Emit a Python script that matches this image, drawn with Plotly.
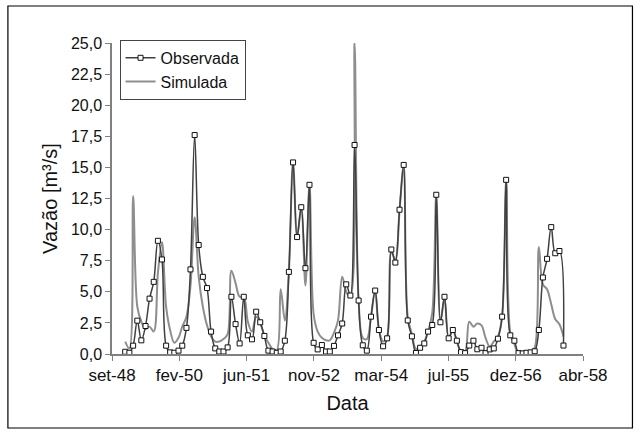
import pandas as pd
import plotly.graph_objects as go

# Monthly series Jan-1949 .. Dec-1957
months = pd.date_range("1949-01-01", periods=108, freq="MS")

observada = [0.18, 0.1, 0.67, 2.68, 1.1, 2.25, 4.45, 5.8, 9.1, 7.6, 0.67, 0.13,
             0.1, 0.27, 0.67, 2.1, 6.8, 17.6, 8.76, 6.2, 5.3, 1.8, 0.45, 0.2,
             0.2, 0.53, 4.6, 2.4, 0.85, 4.6, 1.5, 1.18, 3.4, 2.55, 1.45, 0.27,
             0.2, 0.1, 0.2, 1.07, 6.6, 15.4, 9.4, 11.8, 6.9, 13.6, 0.9, 0.37,
             0.72, 0.2, 0.2, 0.65, 1.5, 2.45, 5.6, 4.7, 16.8, 4.3, 0.7, 0.27,
             3.0, 5.1, 1.93, 0.62, 1.26, 8.4, 7.35, 11.6, 15.2, 2.7, 1.42, 0.08,
             0.5, 0.85, 1.8, 2.33, 12.8, 2.55, 4.6, 1.26, 1.93, 1.07, 0.15, 0.07,
             0.68, 1.07, 0.38, 0.5, 0.07, 0.37, 0.45, 1.23, 3.0, 14.0, 1.5, 1.07,
             0.07, 0.05, 0.1, 0.13, 0.22, 1.93, 6.15, 7.65, 10.2, 8.1, 8.28, 0.68]

simulada = [1.0, 0.45, 12.7, 3.8, 2.6, 2.0, 2.2, 1.8, 6.5, 9.0, 3.8, 1.9,
            0.9, 1.3, 2.2, 3.0, 5.5, 11.0, 6.2, 3.8, 2.3, 1.4, 1.0, 1.0,
            1.2, 1.6, 6.7, 5.7, 4.6, 4.6, 2.6, 1.8, 3.0, 2.5, 1.5, 0.9,
            0.4, 0.3, 5.2, 2.7, 6.6, 15.5, 9.4, 11.8, 5.5, 13.7, 3.2, 1.8,
            1.3, 1.1, 1.1, 1.7, 2.7, 6.2, 5.0, 4.6, 25.0, 4.3, 1.3, 1.2,
            3.0, 5.1, 2.0, 1.0, 1.4, 8.2, 7.6, 11.5, 15.2, 3.0, 1.6, 0.4,
            0.6, 1.0, 1.8, 3.3, 12.9, 2.6, 4.5, 1.3, 1.9, 1.0, 0.2, 0.2,
            2.6, 2.2, 2.45, 2.3, 1.3, 0.6, 1.0, 1.4, 3.0, 14.0, 1.7, 0.8,
            0.0, 0.0, 0.1, 0.2, 0.5, 8.6, 5.6, 5.2, 4.0, 2.8, 2.4, 1.4]

tick_dates = ["1948-09-25", "1950-02-07", "1951-06-22", "1952-11-03",
              "1954-03-18", "1955-07-31", "1956-12-12", "1958-04-25"]
tick_labels = ["set-48", "fev-50", "jun-51", "nov-52", "mar-54", "jul-55", "dez-56", "abr-58"]

FONT = "Liberation Sans, Arial, sans-serif"

fig = go.Figure()
fig.add_trace(go.Scatter(
    x=months, y=simulada, name="Simulada", mode="lines",
    line=dict(color="#8e8e8e", width=2, shape="spline", smoothing=1.0),
    legendrank=2,
))
fig.add_trace(go.Scatter(
    x=months, y=observada, name="Observada", mode="lines+markers",
    line=dict(color="#404040", width=1.5, shape="spline", smoothing=1.0),
    marker=dict(symbol="square", size=5, color="white",
                line=dict(color="#111111", width=1)),
    legendrank=1,
))

fig.update_layout(
    width=641, height=435,
    margin=dict(l=112, r=58, t=43, b=81),
    paper_bgcolor="white", plot_bgcolor="white",
    separators=",.",
    font=dict(family=FONT, size=17, color="#111111"),
    showlegend=True,
    legend=dict(x=0.016, y=1.01, xanchor="left", yanchor="top",
                bgcolor="white", bordercolor="#444444", borderwidth=1,
                font=dict(size=16), tracegroupgap=0, itemwidth=30),
    xaxis=dict(range=[tick_dates[0], tick_dates[-1]], tickvals=tick_dates,
               ticktext=tick_labels, showgrid=False, zeroline=False,
               showline=True, linecolor="#808080", linewidth=1.5,
               ticks="outside", ticklen=5, tickcolor="#808080",
               title=dict(text="Data", standoff=12)),
    yaxis=dict(range=[0, 25], dtick=2.5, tick0=0, tickformat=".1f",
               showgrid=False, zeroline=False, showline=True,
               linecolor="#808080", linewidth=1.5, ticks="outside",
               ticklen=5, tickcolor="#808080", tickfont=dict(size=16),
               title=dict(text="Vazão [m³/s]", standoff=8)),
    shapes=[dict(type="rect", xref="paper", yref="paper",
                 x0=-0.221, x1=1.105, y0=-0.238, y1=1.119,
                 line=dict(color="black", width=1.2), fillcolor="rgba(0,0,0,0)",
                 layer="below")],
)

fig.write_html("out.html")
